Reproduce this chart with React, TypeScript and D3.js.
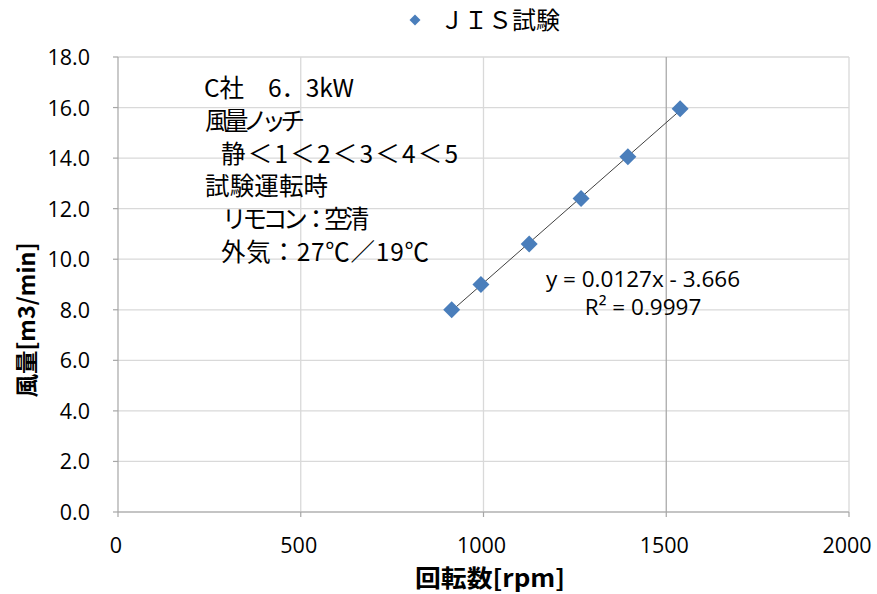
import React from 'react';
import * as d3 from 'd3';

// ---- data ----
const rpm = [913, 993, 1125, 1267, 1395, 1538];
const airflow = [8.0, 9.0, 10.6, 12.4, 14.05, 15.95];
const xTicks = [0, 500, 1000, 1500, 2000];
const yTicks = [0, 2, 4, 6, 8, 10, 12, 14, 16, 18];
const legendLabel = 'ＪＩＳ試験';
const xTitle = '回転数[rpm]';
const yTitle = '風量[m3/min]';
const noteLines = [
  'C社　6．3kW',
  '風量ノッチ',
  '静＜1＜2＜3＜4＜5',
  '試験運転時',
  'リモコン：空清',
  '外気：27℃／19℃',
];
const equationText = 'y = 0.0127x - 3.666';
const r2Text = 'R² = 0.9997';

// ---- layout ----
const W = 877;
const H = 594;
const plot = { left: 118, right: 849, top: 57, bottom: 512 };
const noteLayout = [
  { x: 204, len: 150 },
  { x: 205, len: 100 },
  { x: 221, len: 237 },
  { x: 205, len: 123 },
  { x: 222, len: 147 },
  { x: 221, len: 208 },
];
const CJK = '"Noto Sans CJK JP", "Noto Sans", sans-serif';
const LAT = '"Open Sans", "Noto Sans", sans-serif';
const blue = '#4a7ebb';

export default function App() {
  const x = d3.scaleLinear().domain([0, 2000]).range([plot.left, plot.right]);
  const y = d3.scaleLinear().domain([0, 18]).range([plot.bottom, plot.top]);

  // least squares trendline
  const n = rpm.length;
  const mx = d3.mean(rpm) as number;
  const my = d3.mean(airflow) as number;
  let sxy = 0, sxx = 0;
  for (let i = 0; i < n; i++) {
    sxy += (rpm[i] - mx) * (airflow[i] - my);
    sxx += (rpm[i] - mx) ** 2;
  }
  const slope = sxy / sxx;
  const icpt = my - slope * mx;
  const x0 = d3.min(rpm) as number;
  const x1 = d3.max(rpm) as number;
  const line = d3.line<number>().x((d) => x(d)).y((d) => y(slope * d + icpt));

  const diamond = (cx: number, cy: number, r: number) =>
    `M${cx},${cy - r}L${cx + r},${cy}L${cx},${cy + r}L${cx - r},${cy}Z`;

  return (
    <svg
      width={W}
      height={H}
      style={{ position: 'absolute', left: 0, top: 0, background: '#fff' }}
    >
      <rect x={0} y={0} width={W} height={H} fill="#fff" />
      {yTicks.map((t) => (
        <line
          key={'gy' + t}
          x1={plot.left}
          x2={plot.right}
          y1={y(t)}
          y2={y(t)}
          stroke="#d9d9d9"
          strokeWidth={1.3}
        />
      ))}
      {xTicks.filter((t) => t > 0).map((t) => (
        <line
          key={'gx' + t}
          x1={x(t)}
          x2={x(t)}
          y1={plot.top}
          y2={plot.bottom}
          stroke={t === 1500 ? '#aaaaaa' : '#d9d9d9'}
          strokeWidth={1.3}
        />
      ))}
      <line x1={plot.left} x2={plot.left} y1={plot.top} y2={plot.bottom} stroke="#a6a6a6" strokeWidth={1.2} />
      <line x1={plot.left} x2={plot.right} y1={plot.bottom} y2={plot.bottom} stroke="#a6a6a6" strokeWidth={1.2} />
      {yTicks.map((t) => (
        <line key={'ty' + t} x1={plot.left - 5} x2={plot.left} y1={y(t)} y2={y(t)} stroke="#a6a6a6" strokeWidth={1.2} />
      ))}
      {xTicks.map((t) => (
        <line key={'tx' + t} x1={x(t)} x2={x(t)} y1={plot.bottom} y2={plot.bottom + 5} stroke="#a6a6a6" strokeWidth={1.2} />
      ))}
      {yTicks.map((t) => (
        <text
          key={'ly' + t}
          x={90}
          y={y(t) + 8}
          textAnchor="end"
          fontFamily={LAT}
          fontSize={21.5}
          fill="#000"
        >
          {t.toFixed(1)}
        </text>
      ))}
      {xTicks.map((t) => (
        <text
          key={'lx' + t}
          x={x(t) - 2}
          y={553}
          textAnchor="middle"
          fontFamily={LAT}
          fontSize={21.5}
          fill="#000"
        >
          {t}
        </text>
      ))}
      <text
        x={490}
        y={587}
        textAnchor="middle"
        fontFamily={CJK}
        fontWeight="bold"
        fontSize={24}
        fill="#000"
        textLength={150}
        lengthAdjust="spacingAndGlyphs"
      >
        {xTitle}
      </text>
      <text
        transform={`translate(${35},${320}) rotate(-90)`}
        textAnchor="middle"
        fontFamily={CJK}
        fontWeight="bold"
        fontSize={23}
        fill="#000"
        textLength={155}
        lengthAdjust="spacingAndGlyphs"
      >
        {yTitle}
      </text>
      <path d={line([x0, x1]) as string} stroke="#404040" strokeWidth={1} fill="none" />
      {rpm.map((r, i) => (
        <path key={'p' + i} d={diamond(x(r), y(airflow[i]), 8.5)} fill={blue} />
      ))}
      {noteLines.map((s, i) => (
        <text
          key={'n' + i}
          x={noteLayout[i].x}
          y={88 + 32.8 * i + 9}
          fontFamily={CJK}
          fontSize={24.5}
          fill="#000"
          textLength={noteLayout[i].len}
          lengthAdjust="spacing"
        >
          {s}
        </text>
      ))}
      <text x={643} y={287} textAnchor="middle" fontFamily={LAT} fontSize={22.5} fill="#000">
        {equationText}
      </text>
      <text x={643} y={315} textAnchor="middle" fontFamily={LAT} fontSize={22.5} fill="#000">
        {r2Text}
      </text>
      <path d={diamond(415, 20, 5.5)} fill={blue} />
      <text x={440} y={29} fontFamily={CJK} fontSize={24} fill="#000">
        {legendLabel}
      </text>
    </svg>
  );
}
